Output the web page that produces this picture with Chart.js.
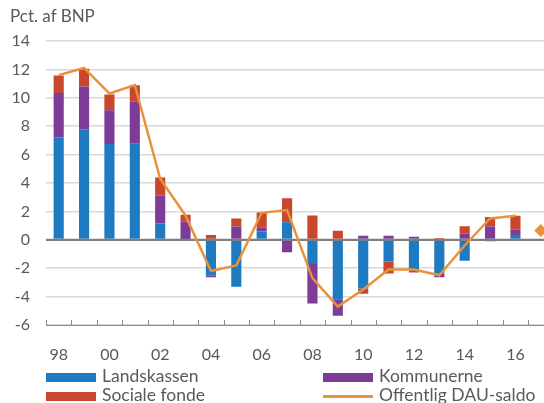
<!DOCTYPE html>
<html>
<head>
<meta charset="utf-8">
<script src="https://cdn.jsdelivr.net/npm/chart.js@4/dist/chart.umd.min.js"></script>
<style>
  html, body { margin: 0; padding: 0; background: #fff; overflow: hidden; }
  body { width: 544px; height: 403px; position: relative; font-family: Lato, sans-serif; color: #595959; }
  #chartBox { position: absolute; left: 0; top: 0; }
  #unit { position: absolute; left: 10px; top: 5px; font-size: 17px; }
  .legend-item { position: absolute; font-size: 17.5px; line-height: 20px; white-space: nowrap; }
  .legend-item .swatch { position: absolute; left: 0; top: 6px; width: 50px; height: 9px; }
  .legend-item .swatch.line { top: 9px; height: 3px; }
  .legend-item span.txt { position: absolute; left: 56px; top: -1px; }
</style>
</head>
<body>
<canvas id="chartBox" width="560" height="370"></canvas>
<div id="unit">Pct. af BNP</div>
<div id="legend"></div>
<script>
'use strict';

// years 1998 - 2017 (2017 only has the diamond)
const years = [1998, 1999, 2000, 2001, 2002, 2003, 2004, 2005, 2006, 2007,
               2008, 2009, 2010, 2011, 2012, 2013, 2014, 2015, 2016, 2017];

const landskassen = [7.23, 7.79, 6.74, 6.76, 1.15, 0.05, -2.54, -3.31, 0.59, 1.24,
                     -1.71, -4.18, -3.43, -1.53, -2.16, -2.39, -1.48, -0.10, 0.33, null];
const kommunerne  = [3.10, 3.00, 2.39, 2.96, 1.97, 1.24, -0.09, 0.94, 0.30, -0.87,
                     -2.77, -1.17, 0.28, 0.28, 0.21, -0.24, 0.42, 0.94, 0.37, null];
const socialeFonde = [1.24, 1.25, 1.10, 1.17, 1.27, 0.47, 0.33, 0.56, 1.03, 1.69,
                      1.71, 0.63, -0.37, -0.84, -0.14, 0.12, 0.53, 0.66, 0.99, null];
const dauSaldo    = [11.6, 12.1, 10.3, 10.9, 4.3, 1.7, -2.2, -1.8, 1.9, 2.1,
                     -2.7, -4.7, -3.5, -2.1, -2.1, -2.5, -0.4, 1.5, 1.7, null];
const saldo2017 = [null, null, null, null, null, null, null, null, null, null,
                   null, null, null, null, null, null, null, null, null, 0.65];

const yTicks = { min: -6, max: 14, step: 2 };

const BLUE = '#1f7bc1', PURPLE = '#7d3c98', RED = '#c9472c', ORANGE = '#e8923a';
const GREY_TXT = '#595959';
const FONT = { family: 'Lato', size: 16 };

// little upward ticks on the x axis + zero line on top of the bars
const axisPlugin = {
    id: 'axisExtras',
    afterDatasetDraw(chart, args){
        if(args.index !== 0) return;
        const ctx = chart.ctx;
        const y0 = chart.scales.y.getPixelForValue(0);
        ctx.save();
        ctx.strokeStyle = '#7f7f7f';
        ctx.lineWidth = 2;
        ctx.beginPath();
        ctx.moveTo(chart.chartArea.left, y0);
        ctx.lineTo(chart.chartArea.right, y0);
        ctx.stroke();
        ctx.restore();
    },
    afterDraw(chart){
        const ctx = chart.ctx;
        const x = chart.scales.x;
        const bottom = chart.chartArea.bottom;
        const n = years.length;
        ctx.save();
        ctx.strokeStyle = '#8c8c8c';
        ctx.lineWidth = 1;
        for(let i = 0; i <= n; i++){
            const px = Math.round(x.left + i * x.width / n) + 0.5;
            ctx.beginPath();
            ctx.moveTo(px, bottom - 5);
            ctx.lineTo(px, bottom);
            ctx.stroke();
        }
        ctx.restore();
    }
};

const barStyle = { categoryPercentage: 1.0, barPercentage: 0.4, order: 1, stack: 's' };

const ctx = document.getElementById('chartBox').getContext('2d');
window.myChart = new Chart(ctx, {
    type: 'bar',
    data: {
        labels: years,
        datasets: [
            Object.assign({ label: 'Landskassen', data: landskassen, backgroundColor: BLUE }, barStyle),
            Object.assign({ label: 'Kommunerne', data: kommunerne, backgroundColor: PURPLE }, barStyle),
            Object.assign({ label: 'Sociale fonde', data: socialeFonde, backgroundColor: RED }, barStyle),
            {
                type: 'line', label: 'Offentlig DAU-saldo', data: dauSaldo,
                borderColor: ORANGE, backgroundColor: ORANGE, borderWidth: 2.5,
                pointRadius: 0, tension: 0, order: 0
            },
            {
                type: 'line', label: '2017', data: saldo2017,
                borderColor: ORANGE, backgroundColor: ORANGE, showLine: false,
                pointStyle: 'rectRot', pointRadius: 6.5, borderWidth: 0, order: 0
            }
        ]
    },
    options: {
        responsive: false,
        animation: false,
        devicePixelRatio: 1,
        layout: { padding: { top: 41, right: 2, left: 0, bottom: 0 } },
        plugins: {
            legend: { display: false },
            tooltip: { enabled: false }
        },
        scales: {
            x: {
                stacked: true,
                // invisible tick marks push the labels down without adding side padding
                grid: { display: true, drawOnChartArea: false, drawTicks: true, tickLength: 20, tickColor: 'rgba(0,0,0,0)' },
                border: { display: true, color: '#8c8c8c', width: 1 },
                afterFit(scale){ scale.height = 45; },
                ticks: {
                    autoSkip: false, maxRotation: 0, padding: 0,
                    color: GREY_TXT, font: FONT,
                    callback(v, i){
                        const yr = years[i];
                        return yr % 2 === 0 ? String(yr).slice(2) : '';
                    }
                }
            },
            y: {
                stacked: true,
                min: yTicks.min, max: yTicks.max,
                border: { display: false },
                grid: {
                    drawTicks: false,
                    color: c => c.tick.value === 0 ? '#7f7f7f' : '#d9d9d9',
                    lineWidth: c => c.tick.value === 0 ? 2 : 1.5
                },
                afterFit(scale){ scale.width = 46; },
                ticks: {
                    stepSize: yTicks.step, padding: 16,
                    color: GREY_TXT, font: FONT
                }
            }
        }
    },
    plugins: [axisPlugin]
});

// legend built from the datasets (two columns, like the original)
const legendBox = document.getElementById('legend');
const legendPos = [[46, 367], [323, 367], [46, 386], [323, 386]];
const legendOrder = [0, 1, 2, 3];
legendOrder.forEach((di, k) => {
    const ds = window.myChart.data.datasets[di];
    const isLine = ds.type === 'line';
    const item = document.createElement('div');
    item.className = 'legend-item';
    item.style.left = legendPos[k][0] + 'px';
    item.style.top = legendPos[k][1] + 'px';
    item.innerHTML = `<div class="swatch${isLine ? ' line' : ''}" style="background:${isLine ? ds.borderColor : ds.backgroundColor}"></div><span class="txt">${ds.label}</span>`;
    legendBox.appendChild(item);
});
</script>
</body>
</html>
